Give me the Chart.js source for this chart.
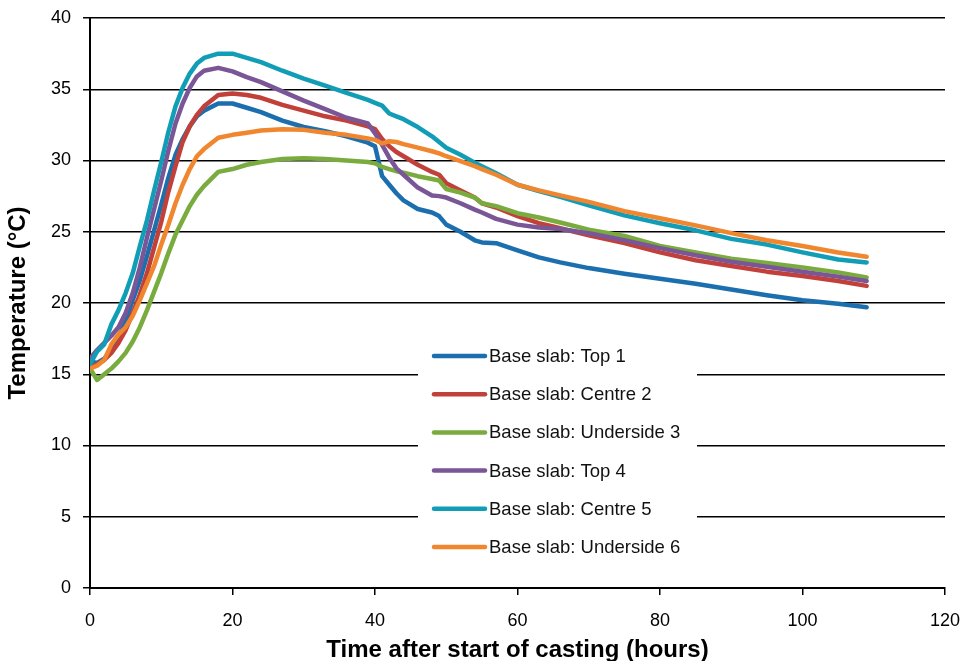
<!DOCTYPE html>
<html>
<head>
<meta charset="utf-8">
<title>Base slab temperatures</title>
<script src="https://cdn.jsdelivr.net/npm/chart.js@4.4.1/dist/chart.umd.min.js"></script>
<style>
  html, body { margin: 0; padding: 0; background: #fff; }
  #wrap { width: 962px; height: 661px; }
</style>
</head>
<body>
<div id="wrap"><canvas id="slabChart"></canvas></div>
<script>
// logged hours after casting
const hours = [0, 1, 2, 3, 4, 5, 6, 7, 8, 9, 10, 11, 12, 13, 14, 15, 16, 18, 20, 22, 24, 27, 30, 33, 36, 39,
  40, 41, 42, 43, 44, 46, 48, 49, 50, 52, 54, 55, 57, 60, 63, 66, 70, 75, 80, 85, 90, 95, 100, 105, 109];

const top1 = [15.9, 15.8, 16.1, 16.7, 17.6, 18.7, 20.2, 21.6, 23.3, 25.1, 26.9, 28.8, 30.4, 31.5, 32.4, 33.1, 33.5, 34.0, 34.0, 33.7, 33.4, 32.8, 32.35, 32.05, 31.7, 31.25,
  31.0, 28.9, 28.3, 27.7, 27.2, 26.6, 26.35, 26.1, 25.5, 25.0, 24.4, 24.25, 24.2, 23.7, 23.2, 22.85, 22.45, 22.05, 21.7, 21.35, 20.95, 20.55, 20.2, 19.95, 19.7];
const centre2 = [15.5, 15.7, 16.0, 16.5, 17.2, 18.1, 19.3, 20.6, 22.1, 23.9, 25.7, 27.8, 29.6, 31.3, 32.4, 33.2, 33.8, 34.6, 34.7, 34.6, 34.4, 33.9, 33.5, 33.1, 32.8, 32.4,
  32.2, 31.5, 31.0, 30.6, 30.3, 29.7, 29.2, 29.0, 28.4, 27.9, 27.4, 27.0, 26.7, 26.1, 25.6, 25.25, 24.75, 24.2, 23.55, 23.0, 22.6, 22.2, 21.9, 21.55, 21.2];
const underside3 = [15.4, 14.6, 15.0, 15.4, 15.9, 16.5, 17.3, 18.3, 19.5, 20.8, 22.1, 23.5, 24.8, 25.8, 26.8, 27.6, 28.2, 29.2, 29.4, 29.7, 29.9, 30.1, 30.15, 30.1, 30.0, 29.9,
  29.8, 29.55, 29.4, 29.25, 29.15, 28.9, 28.7, 28.6, 28.0, 27.75, 27.4, 27.0, 26.8, 26.3, 26.0, 25.65, 25.15, 24.7, 24.0, 23.55, 23.1, 22.8, 22.5, 22.15, 21.8];
const top4 = [16.1, 16.7, 17.2, 17.7, 18.3, 19.3, 20.7, 22.5, 24.6, 26.6, 28.6, 30.7, 32.6, 34.0, 35.1, 35.9, 36.3, 36.5, 36.25, 35.85, 35.5, 34.85, 34.2, 33.6, 33.0, 32.6,
  31.9, 31.1, 30.2, 29.45, 29.0, 28.1, 27.55, 27.5, 27.4, 27.0, 26.55, 26.35, 25.9, 25.5, 25.3, 25.2, 24.9, 24.4, 23.85, 23.35, 22.9, 22.55, 22.2, 21.85, 21.55];
const centre5 = [15.7, 16.6, 17.1, 18.5, 19.5, 20.7, 22.1, 24.0, 25.8, 27.9, 29.9, 32.0, 33.8, 35.1, 36.1, 36.8, 37.2, 37.5, 37.5, 37.2, 36.9, 36.3, 35.75, 35.25, 34.75, 34.25,
  34.05, 33.85, 33.3, 33.1, 32.9, 32.35, 31.7, 31.3, 30.9, 30.4, 29.85, 29.6, 29.1, 28.3, 27.85, 27.45, 26.85, 26.15, 25.6, 25.1, 24.5, 24.1, 23.55, 23.05, 22.85];
const underside6 = [15.4, 15.6, 16.0, 17.1, 17.8, 18.3, 19.1, 20.2, 21.4, 22.6, 24.1, 25.5, 27.0, 28.3, 29.4, 30.3, 30.8, 31.6, 31.8, 31.95, 32.1, 32.2, 32.15, 31.95, 31.8, 31.55,
  31.45, 31.2, 31.35, 31.3, 31.15, 30.9, 30.65, 30.5, 30.3, 29.95, 29.6, 29.4, 29.0, 28.3, 27.9, 27.55, 27.1, 26.45, 25.95, 25.45, 24.9, 24.4, 24.0, 23.55, 23.25];

const seriesNames = ['Base slab: Top 1', 'Base slab: Centre 2', 'Base slab: Underside 3',
  'Base slab: Top 4', 'Base slab: Centre 5', 'Base slab: Underside 6'];
const seriesValues = [top1, centre2, underside3, top4, centre5, underside6];
const seriesColors = ['#1b6fae', '#c1403a', '#7aab3e', '#7a5697', '#129db7', '#f0862e'];

const xTicks = [0, 20, 40, 60, 80, 100, 120];
const yTicks = [0, 5, 10, 15, 20, 25, 30, 35, 40];

const FONT = '"Liberation Sans", Arial, sans-serif';

// legend box sitting inside the plot, over the grid lines
const insideLegend = {
  id: 'insideLegend',
  beforeDatasetsDraw(chart) {
    const { ctx, chartArea: a } = chart;
    const x0 = a.left + 328, y0 = a.top + 322;
    ctx.save();
    ctx.fillStyle = '#fff';
    ctx.fillRect(x0, y0, 279, 228);
    ctx.font = '18.5px ' + FONT;
    ctx.textBaseline = 'middle';
    chart.data.datasets.forEach((ds, i) => {
      const y = y0 + 16 + i * 38.2;
      ctx.strokeStyle = ds.borderColor;
      ctx.lineWidth = 4.5;
      ctx.lineCap = 'round';
      ctx.beginPath();
      ctx.moveTo(x0 + 16, y);
      ctx.lineTo(x0 + 67, y);
      ctx.stroke();
      ctx.fillStyle = '#111';
      ctx.fillText(ds.label, x0 + 71, y + 1);
    });
    ctx.restore();
  }
};

document.addEventListener('DOMContentLoaded', function () {
  const ctx = document.getElementById('slabChart').getContext('2d');
  new Chart(ctx, {
    type: 'line',
    data: {
      datasets: seriesNames.map((name, i) => ({
        label: name,
        data: hours.map((h, k) => ({ x: h, y: seriesValues[i][k] })),
        borderColor: seriesColors[i],
        backgroundColor: seriesColors[i],
        borderWidth: 4.5,
        borderCapStyle: 'round',
        borderJoinStyle: 'round',
        pointRadius: 0,
        tension: 0,
        order: seriesNames.length - 1 - i
      }))
    },
    options: {
      responsive: true,
      maintainAspectRatio: false,
      animation: false,
      layout: { padding: { left: 0, right: 17, top: 18, bottom: 0 } },
      plugins: {
        legend: { display: false },
        tooltip: { enabled: false }
      },
      scales: {
        x: {
          type: 'linear',
          min: 0,
          max: 120,
          afterBuildTicks: s => { s.ticks = xTicks.map(v => ({ value: v })); },
          afterFit: s => { s.height = 73; s.paddingLeft = 0; s.paddingRight = 0; },
          grid: { drawOnChartArea: false, color: '#000', lineWidth: 1.5, tickLength: 7 },
          border: { color: '#000', width: 2 },
          ticks: { color: '#000', padding: 15, font: { family: FONT, size: 18 } },
          title: {
            display: true,
            text: 'Time after start of casting (hours)',
            color: '#000',
            font: { family: FONT, size: 24, weight: 'bold' },
            padding: { top: 0, bottom: -4 }
          }
        },
        y: {
          min: 0,
          max: 40,
          afterBuildTicks: s => { s.ticks = yTicks.map(v => ({ value: v })); },
          afterFit: s => { s.width = 90; s.paddingTop = 0; s.paddingBottom = 0; },
          grid: { color: '#000', lineWidth: 1.5, tickLength: 7 },
          border: { color: '#000', width: 2 },
          ticks: { color: '#000', padding: 12, font: { family: FONT, size: 18 } },
          title: {
            display: true,
            text: 'Temperature (°C)',
            color: '#000',
            font: { family: FONT, size: 24, weight: 'bold' },
            padding: { top: 4, bottom: 0 }
          }
        }
      }
    },
    plugins: [insideLegend]
  });
});
</script>
</body>
</html>
